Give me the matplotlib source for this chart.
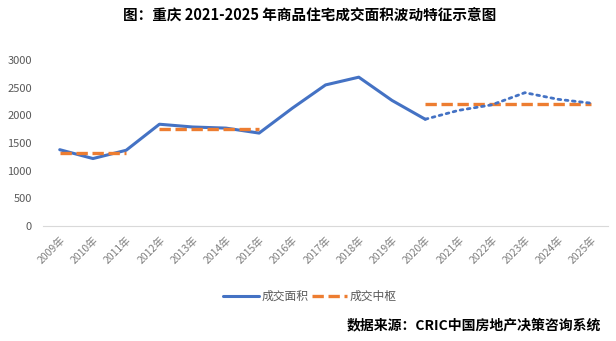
"""重庆商品住宅成交面积波动特征示意图"""

import numpy as np
import matplotlib.pyplot as plt

plt.rcParams['font.family'] = ['Noto Sans CJK SC', 'DejaVu Sans']

years = [str(y) + '年' for y in range(2009, 2026)]
# 成交面积 (actual), 2009-2020
area_actual = [1380, 1220, 1370, 1840, 1790, 1770, 1680, 2130, 2550, 2690, 2270, 1930]
# 成交面积 (forecast), 2020-2025
area_forecast = [1930, 2090, 2190, 2410, 2290, 2220]
# 成交中枢, by period
center_2009 = [1320, 1320, 1320]
center_2012 = [1760, 1760, 1760, 1760]
center_2020 = [2200, 2200, 2200, 2200, 2200, 2200]

blue = '#4472C4'
orange = '#ED7D31'
gray = '#595959'

fig = plt.figure(figsize=(6.16, 3.41), dpi=100)
ax = fig.add_axes([0.070, 0.337, 0.917, 0.487])

x = np.arange(len(years))
ax.plot(x[:12], area_actual, color=blue, lw=2.2, solid_capstyle='round', label='成交面积', zorder=3)
ax.plot(x[11:], area_forecast, color=blue, lw=2.0, ls=(0, (1, 1.6)), dash_capstyle='round', zorder=3)
ax.plot(x[0:3], center_2009, color=orange, lw=2.4, ls=(0, (3.4, 1.4)), label='成交中枢', zorder=4)
ax.plot(x[3:7], center_2012, color=orange, lw=2.4, ls=(0, (3.4, 1.4)), zorder=4)
ax.plot(x[11:], center_2020, color=orange, lw=2.4, ls=(0, (3.4, 1.4)), zorder=2)

ax.set_xlim(-0.5, len(years) - 0.5)
ax.set_ylim(0, 3000)
ax.set_yticks(range(0, 3001, 500))
ax.set_xticks(x)
ax.set_xticklabels(years, rotation=45, ha='right', rotation_mode='anchor')
ax.tick_params(axis='y', length=0, labelsize=8, labelcolor=gray, pad=8)
ax.tick_params(axis='x', length=0, labelsize=7.5, labelcolor='#7F7F7F', pad=6)
for s in ['top', 'right', 'left']:
    ax.spines[s].set_visible(False)
ax.spines['bottom'].set_color('#D9D9D9')

fig.text(0.502, 0.953, '图：重庆 2021-2025 年商品住宅成交面积波动特征示意图',
         ha='center', va='center', fontsize=10.5, fontweight='bold')
fig.legend(loc='center', bbox_to_anchor=(0.503, 0.130), ncol=2, frameon=False,
           fontsize=8.5, labelcolor=gray, handlelength=3.0, columnspacing=0.3, handletextpad=0.2)
fig.text(0.975, 0.047, '数据来源：CRIC中国房地产决策咨询系统',
         ha='right', va='center', fontsize=10, fontweight='bold')

fig.savefig('out.png', dpi=100)
